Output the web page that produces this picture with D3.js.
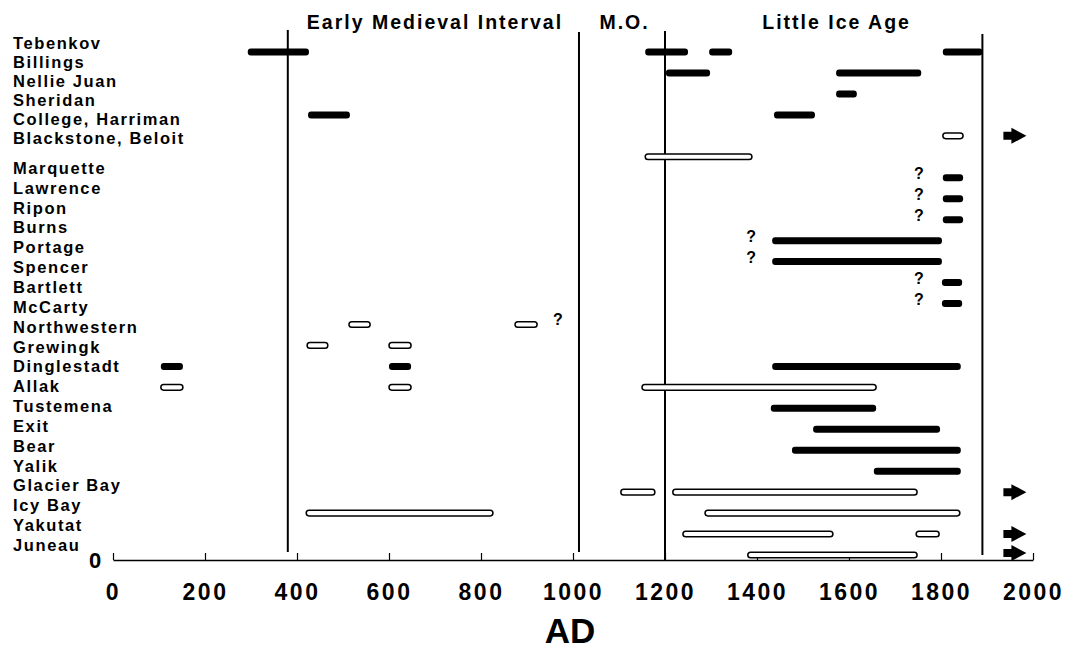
<!DOCTYPE html>
<html>
<head>
<meta charset="utf-8">
<script src="https://cdn.jsdelivr.net/npm/d3@7"></script>
<style>
  html, body { margin: 0; padding: 0; background: #fff; }
  svg { display: block; }
  text { font-family: "Liberation Sans", Arial, Helvetica, sans-serif; font-weight: bold; fill: #000; }
</style>
</head>
<body>
<svg id="chart" width="1070" height="651"></svg>
<script>
// ---------------- data ----------------
const rowLabels = [
  "Tebenkov", "Billings", "Nellie Juan", "Sheridan", "College, Harriman",
  "Blackstone, Beloit", "Marquette", "Lawrence", "Ripon", "Burns",
  "Portage", "Spencer", "Bartlett", "McCarty", "Northwestern",
  "Grewingk", "Dinglestadt", "Allak", "Tustemena", "Exit",
  "Bear", "Yalik", "Glacier Bay", "Icy Bay", "Yakutat", "Juneau"
];
const xTicks = [0, 200, 400, 600, 800, 1000, 1200, 1400, 1600, 1800, 2000];
const xTitle = "AD";
const originLabel = "0";

// period boundaries (years AD)
const periodLines = [380, 1013, 1200, 1890];
// period names and their centre years
const periodNames = ["Early Medieval Interval", "M.O.", "Little Ice Age"];
const periodCentres = [700, 1112, 1573];

// advance intervals: [row, start year, end year, kind] (solid = filled, open = hollow)
const bars = [
  [0, 293, 426, "solid"], [0, 1157, 1250, "solid"], [0, 1296, 1346, "solid"], [0, 1804, 1890, "solid"],
  [1, 1202, 1298, "solid"], [1, 1572, 1757, "solid"],
  [2, 1572, 1617, "solid"],
  [3, 424, 515, "solid"], [3, 1437, 1526, "solid"],
  [4, 1804, 1848, "open"],
  [5, 1157, 1389, "open"],
  [6, 1804, 1848, "solid"],
  [7, 1804, 1848, "solid"],
  [8, 1804, 1848, "solid"],
  [9, 1433, 1802, "solid"],
  [10, 1433, 1802, "solid"],
  [11, 1802, 1846, "solid"],
  [12, 1802, 1846, "solid"],
  [13, 513, 559, "open"], [13, 874, 922, "open"],
  [14, 422, 467, "open"], [14, 600, 648, "open"],
  [15, 104, 152, "solid"], [15, 600, 648, "solid"], [15, 1433, 1843, "solid"],
  [16, 104, 152, "open"], [16, 600, 648, "open"], [16, 1150, 1659, "open"],
  [17, 1430, 1659, "solid"],
  [18, 1522, 1798, "solid"],
  [19, 1476, 1843, "solid"],
  [20, 1654, 1843, "solid"],
  [21, 1104, 1178, "open"], [21, 1217, 1748, "open"],
  [22, 420, 826, "open"], [22, 1287, 1841, "open"],
  [23, 1239, 1565, "open"], [23, 1746, 1796, "open"],
  [24, 1380, 1748, "open"]
];
// uncertain onsets: [row, year]
const queries = [[6, 1752], [7, 1752], [8, 1752], [9, 1387], [10, 1387], [11, 1752], [12, 1752], [13, 967]];
// rows still advancing (arrow), with arrow start year
const arrowRows = [4, 21, 23, 24];
const arrowYear = 1940;

// ---------------- drawing ----------------
const svg = d3.select("#chart");
svg.append("rect").attr("width", 1070).attr("height", 651).attr("fill", "#fff");

const x = d3.scaleLinear().domain([0, 2000]).range([113, 1033]);
const yBar = d3.scaleLinear().domain([0, 24]).range([52, 555]);
const yLabel = d3.scaleLinear().domain([0, 5, 6, 25]).range([43, 138, 168, 545]);
const axisY = 560;

// row labels
svg.append("g").selectAll("text").data(rowLabels).join("text")
  .attr("x", 13)
  .attr("y", (d, i) => yLabel(i))
  .attr("dy", "0.36em")
  .attr("font-size", 16.5)
  .attr("letter-spacing", 1.6)
  .text(d => d);

// period boundary lines
const lineExt = [[30, 552], [32, 552], [31, axisY], [34, 555]];
svg.append("g").selectAll("line").data(periodLines).join("line")
  .attr("x1", d => x(d)).attr("x2", d => x(d))
  .attr("y1", (d, i) => lineExt[i][0]).attr("y2", (d, i) => lineExt[i][1])
  .attr("stroke", "#000").attr("stroke-width", 2);

// period names
svg.append("g").selectAll("text").data(periodNames).join("text")
  .attr("x", (d, i) => x(periodCentres[i]))
  .attr("y", 29)
  .attr("text-anchor", "middle")
  .attr("font-size", 19.5)
  .attr("letter-spacing", 2)
  .text(d => d);

// x axis
const axis = d3.axisBottom(x).tickValues(xTicks).tickSizeInner(-7).tickSizeOuter(0).tickFormat(d3.format("d"));
const gAxis = svg.append("g").attr("transform", `translate(0,${axisY})`).call(axis);
gAxis.select(".domain").attr("stroke", "#000").attr("stroke-width", 1.6);
gAxis.selectAll(".tick line").attr("stroke", "#000").attr("stroke-width", 1.2);
gAxis.selectAll(".tick text")
  .attr("y", 40).attr("dy", 0)
  .attr("font-size", 23)
  .attr("letter-spacing", 2.5)
  .attr("font-family", "'Liberation Sans', Arial, sans-serif")
  .attr("font-weight", "bold")
  .attr("fill", "#000");

// bars
const solid = bars.filter(b => b[3] === "solid");
const open = bars.filter(b => b[3] === "open");
svg.append("g").selectAll("rect").data(solid).join("rect")
  .attr("x", d => x(d[1]))
  .attr("width", d => x(d[2]) - x(d[1]))
  .attr("y", d => yBar(d[0]) - 3.5)
  .attr("height", 7)
  .attr("rx", 3)
  .attr("fill", "#000");
svg.append("g").selectAll("rect").data(open).join("rect")
  .attr("x", d => x(d[1]))
  .attr("width", d => x(d[2]) - x(d[1]))
  .attr("y", d => yBar(d[0]) - 2.8)
  .attr("height", 5.6)
  .attr("rx", 2.8)
  .attr("fill", "#fff")
  .attr("stroke", "#000")
  .attr("stroke-width", 1.5);

// question marks
svg.append("g").selectAll("text").data(queries).join("text")
  .attr("x", d => x(d[1]))
  .attr("y", d => yBar(d[0]) + 1)
  .attr("text-anchor", "middle")
  .attr("font-size", 16)
  .text("?");

// arrows
const arrowPath = "M0,-4 L8,-4 L8,-8 L23,0 L8,8 L8,4 L0,4 Z";
svg.append("g").selectAll("path").data(arrowRows).join("path")
  .attr("transform", r => `translate(${x(arrowYear) - 2},${yBar(r) + (r === 24 ? -2 : 0)})`)
  .attr("d", arrowPath)
  .attr("fill", "#000");

// origin label
svg.append("text").attr("x", 95).attr("y", axisY + 8)
  .attr("text-anchor", "middle").attr("font-size", 22).text(originLabel);

// axis title
svg.append("text").attr("x", 570).attr("y", 643)
  .attr("text-anchor", "middle").attr("font-size", 35).text(xTitle);
</script>
</body>
</html>
